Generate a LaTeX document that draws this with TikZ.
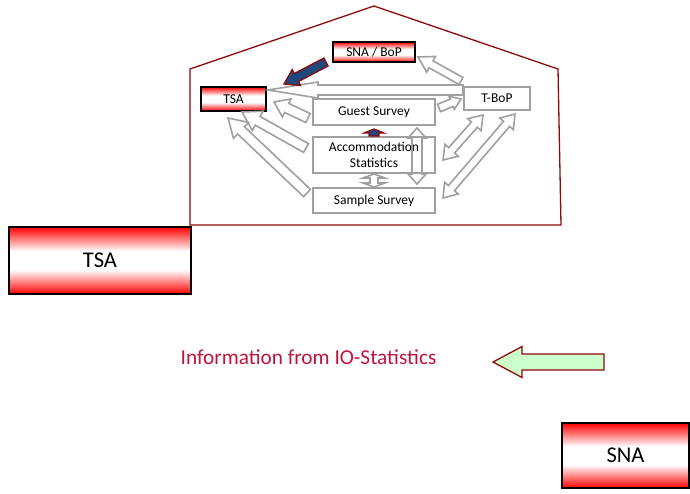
\documentclass[tikz,border=0pt]{standalone}
\usepackage{fontspec}
\setmainfont{Carlito}
\usepackage{tikz}
\usetikzlibrary{calc}

\definecolor{housered}{RGB}{140,10,10}
\definecolor{framegrey}{RGB}{160,160,160}
\definecolor{infored}{RGB}{192,20,60}
\definecolor{arrowblue}{RGB}{31,73,125}
\definecolor{arrowgreen}{RGB}{204,255,204}

% red - white - red band for the boxes
\pgfdeclareverticalshading{redband}{100bp}{color(0bp)=(red); color(25bp)=(red); color(43bp)=(white);
  color(57bp)=(white); color(75bp)=(red); color(100bp)=(red)}

% block arrow: [style]{tail}{tip}{shaft half width}{head half width}{head length}
\newcommand{\blockarrow}[6][]{%
  \draw[#1] (#3)
    -- ($(#3)!#6!(#2)!#5!90:(#3)$) -- ($(#3)!#6!(#2)!#4!90:(#3)$)
    -- ($(#2)!#4!90:(#3)$) -- ($(#2)!#4!-90:(#3)$)
    -- ($(#3)!#6!(#2)!#4!-90:(#3)$) -- ($(#3)!#6!(#2)!#5!-90:(#3)$) -- cycle;}
% block arrow with two heads
\newcommand{\doublearrow}[6][]{%
  \draw[#1] (#3)
    -- ($(#3)!#6!(#2)!#5!90:(#3)$) -- ($(#3)!#6!(#2)!#4!90:(#3)$)
    -- ($(#2)!#6!(#3)!#4!-90:(#2)$) -- ($(#2)!#6!(#3)!#5!-90:(#2)$)
    -- (#2)
    -- ($(#2)!#6!(#3)!#5!90:(#2)$) -- ($(#2)!#6!(#3)!#4!90:(#2)$)
    -- ($(#3)!#6!(#2)!#4!-90:(#3)$) -- ($(#3)!#6!(#2)!#5!-90:(#3)$) -- cycle;}

\begin{document}
\begin{tikzpicture}[x=1pt,y=-1pt,
  redbox/.style={draw=black, line width=2pt, shading=redband, inner sep=0pt},
  greybox/.style={draw=framegrey, line width=2pt, inner sep=0pt, align=center},
  greyarrow/.style={draw=framegrey, line width=1.6pt, fill=white, line join=miter},
  bluearrow/.style={draw=housered, line width=1.3pt, fill=arrowblue, line join=miter},
  greenarrow/.style={draw=housered, line width=1.3pt, fill=arrowgreen, line join=miter},
  bigtext/.style={font=\fontsize{22.5}{27}\selectfont},
  smalltext/.style={font=\fontsize{13.5}{16}\selectfont}]
\useasboundingbox (0,0) rectangle (690,493);

\draw[housered, line width=1.3pt] (190,225) -- (190,69) -- (374,6) -- (558,69) -- (561,225) -- cycle; % house

\node[redbox, bigtext, minimum width=182pt, minimum height=67pt] (tsaBig) at (100,260.5) {TSA};
\node[redbox, bigtext, minimum width=127pt, minimum height=65pt] (sna) at (625.5,455.5) {SNA};

\node[redbox, smalltext, minimum width=65pt, minimum height=24pt] (tsa) at (233.5,99) {TSA};
\node[redbox, smalltext, minimum width=82pt, minimum height=20pt] (snabop) at (374,52) {SNA / BoP};
\node[greybox, smalltext, minimum width=66pt, minimum height=23pt] (tbop) at (497,98.5) {T-BoP};
\node[greybox, smalltext, minimum width=122pt, minimum height=26pt] (guest) at (374,112) {Guest Survey};
\node[greybox, smalltext, minimum width=122pt, minimum height=36pt] (acc) at (374,155) {Accommodation\\Statistics};
\node[greybox, smalltext, minimum width=122pt, minimum height=25pt] (sample) at (374,200.5) {Sample Survey};

% arrow ends
\coordinate (a1s) at ($(tbop.west)+(0,-8.5)$);
\coordinate (a1e) at ($(tsa.east)+(1,-9)$);
\coordinate (b1s) at ($(snabop.south west)+(-6,-1)$);
\coordinate (b1e) at ($(tsa.north east)+(17,-2)$);
\coordinate (a3s) at ($(tbop.north west)+(-2,-5)$);
\coordinate (a3e) at ($(snabop.east)+(2,5)$);
\coordinate (a4s) at ($(guest.east)+(3,-4)$);
\coordinate (a4e) at ($(tbop.west)+(-2,0.5)$);
\coordinate (a5s) at ($(guest.west)+(-4,6)$);
\coordinate (a5e) at ($(tsa.east)+(7,3)$);
\coordinate (a6s) at ($(acc.west)+(-6,-7)$);
\coordinate (a6e) at ($(tsa.south)+(8.5,0)$);
\coordinate (a7s) at ($(sample.west)+(-5,-7.5)$);
\coordinate (a7e) at ($(tsa.south)+(-5.5,6)$);
\coordinate (d1s) at ($(tbop.south)+(-14,4)$);
\coordinate (d1e) at ($(acc.east)+(7,5)$);
\coordinate (d2s) at ($(tbop.south)+(18,3)$);
\coordinate (d2e) at ($(sample.east)+(7,-2.5)$);
\coordinate (d3s) at ($(guest.south east)+(-19,2)$);
\coordinate (d3e) at ($(sample.north east)+(-19,-3)$);
\coordinate (b2e) at ($(guest.south)+(0,3)$);

\blockarrow[greyarrow]{a1s}{a1e}{5pt}{8pt}{50pt}      % T-BoP to TSA
\blockarrow[bluearrow]{b1s}{b1e}{4.5pt}{9pt}{14pt}    % SNA/BoP to TSA
\blockarrow[greyarrow]{a3s}{a3e}{4pt}{9pt}{15pt}      % T-BoP to SNA/BoP
\blockarrow[greyarrow]{a4s}{a4e}{4pt}{7pt}{10pt}      % Guest to T-BoP
\blockarrow[greyarrow]{a5s}{a5e}{5pt}{10pt}{14pt}     % Guest to TSA
\blockarrow[greyarrow]{a6s}{a6e}{5pt}{11pt}{18pt}     % Accommodation to TSA
\blockarrow[greyarrow]{a7s}{a7e}{5pt}{11pt}{18pt}     % Sample to TSA
\doublearrow[greyarrow]{d1s}{d1e}{4pt}{9pt}{13pt}     % T-BoP - Accommodation
\doublearrow[greyarrow]{d2s}{d2e}{4pt}{9pt}{13pt}     % T-BoP - Sample
\doublearrow[greyarrow, fill=none]{d3s}{d3e}{5pt}{9pt}{10pt} % Guest - Sample
\doublearrow[greyarrow]{acc.south}{sample.north}{4pt}{11pt}{4pt} % Accommodation - Sample
\blockarrow[bluearrow]{acc.north}{b2e}{5pt}{10pt}{4pt} % Accommodation to Guest

\node[font=\fontsize{21.3}{25}\selectfont, text=infored] (info) at (308.5,357) {Information from IO-Statistics};

\coordinate (gTail) at (604,362);
\coordinate (gTip) at (493,362);
\blockarrow[greenarrow]{gTail}{gTip}{8pt}{15.5pt}{29pt} % green arrow

\end{tikzpicture}
\end{document}
